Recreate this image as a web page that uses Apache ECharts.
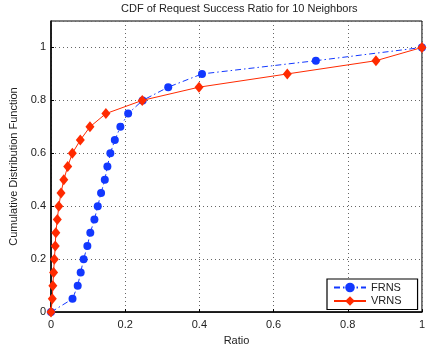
<!DOCTYPE html>
<html>
<head>
<meta charset="utf-8">
<script src="https://cdn.jsdelivr.net/npm/echarts@6/dist/echarts.min.js"></script>
<style>html,body{margin:0;padding:0;background:#fff;}#c{width:428px;height:351px;}</style>
</head>
<body>
<div id="c"></div>
<script>
// CDF levels (shared y-values)
const cdfLevels = [0, 0.05, 0.10, 0.15, 0.20, 0.25, 0.30, 0.35, 0.40, 0.45, 0.50, 0.55, 0.60, 0.65, 0.70, 0.75, 0.80, 0.85, 0.90, 0.95, 1.00];
// Ratio values for each series
const frnsRatio = [0, 0.058, 0.072, 0.080, 0.088, 0.098, 0.106, 0.117, 0.126, 0.135, 0.145, 0.152, 0.160, 0.172, 0.187, 0.208, 0.247, 0.316, 0.407, 0.714, 1.0];
const vrnsRatio = [0, 0.0035, 0.005, 0.007, 0.009, 0.0115, 0.013, 0.017, 0.021, 0.027, 0.0345, 0.045, 0.0575, 0.079, 0.105, 0.148, 0.246, 0.399, 0.637, 0.876, 1.0];
const xTicks = [0, 0.2, 0.4, 0.6, 0.8, 1];
const yTicks = [0, 0.2, 0.4, 0.6, 0.8, 1];

const font = 'Liberation Sans, Arial, Helvetica, sans-serif';
const pairs = (xs, ys) => xs.map((x, i) => [x, ys[i]]);

const chart = echarts.init(document.getElementById('c'), null, {renderer: 'canvas'});
chart.setOption({
  animation: false,
  backgroundColor: '#fff',
  title: {
    text: 'CDF of Request Success Ratio for 10 Neighbors',
    left: 116, top: -2,
    textStyle: {fontSize: 11, fontWeight: 'normal', color: '#222', fontFamily: font}
  },
  grid: {left: 51, right: 1, top: 21, bottom: 33, show: true, borderColor: '#000', borderWidth: 1, backgroundColor: 'transparent'},
  legend: {
    orient: 'vertical', left: 327, top: 279,
    padding: [3, 16, 3, 6],
    itemWidth: 32, itemHeight: 12, itemGap: 2.5,
    borderColor: '#000', borderWidth: 1.2, backgroundColor: '#fff',
    textStyle: {fontSize: 11, color: '#222', fontFamily: font},
    data: ['FRNS', 'VRNS']
  },
  xAxis: {
    type: 'value', min: 0, max: 1, interval: 0.2,
    name: 'Ratio', nameLocation: 'middle', nameGap: 21,
    nameTextStyle: {fontSize: 11, color: '#222', fontFamily: font},
    axisLine: {show: true, onZero: false, lineStyle: {color: '#000', width: 1.5}},
    axisTick: {show: true, inside: true, length: 3, lineStyle: {color: '#000'}},
    axisLabel: {fontSize: 11, color: '#222', fontFamily: font, margin: 7,
      formatter: v => (xTicks.some(t => Math.abs(t - v) < 1e-9) ? String(+v.toFixed(1)) : '')},
    splitLine: {show: true, lineStyle: {color: '#666', type: [1, 3], width: 1}}
  },
  yAxis: {
    type: 'value', min: 0, max: 1.1, interval: 0.2,
    name: 'Cumulative Distribution Function', nameLocation: 'middle', nameGap: 21,
    nameTextStyle: {fontSize: 11, color: '#222', fontFamily: font},
    axisLine: {show: true, onZero: false, lineStyle: {color: '#000', width: 1.5}},
    axisTick: {show: true, inside: true, length: 3, lineStyle: {color: '#000'}},
    axisLabel: {fontSize: 11, color: '#222', fontFamily: font, margin: 5, showMaxLabel: false,
      formatter: v => (yTicks.some(t => Math.abs(t - v) < 1e-9) ? String(+v.toFixed(1)) : '')},
    splitLine: {show: true, lineStyle: {color: '#666', type: [1, 3], width: 1}}
  },
  series: [
    {
      name: 'FRNS', type: 'line',
      data: pairs(frnsRatio, cdfLevels),
      symbol: 'circle', symbolSize: 8,
      itemStyle: {color: '#1238ff'},
      lineStyle: {color: '#1238ff', width: 1, type: [6, 3, 1.5, 3]},
      z: 2
    },
    {
      name: 'VRNS', type: 'line',
      data: pairs(vrnsRatio, cdfLevels),
      symbol: 'diamond', symbolSize: [9, 11],
      itemStyle: {color: '#ff2a00'},
      lineStyle: {color: '#ff2a00', width: 1},
      z: 3
    }
  ]
});
</script>
</body>
</html>
